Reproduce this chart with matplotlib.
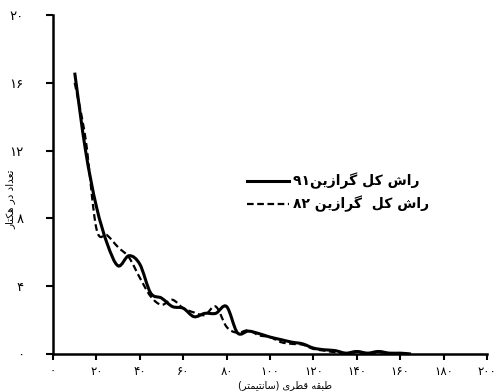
import numpy as np
import matplotlib
matplotlib.use("Agg")
import matplotlib.pyplot as plt
from matplotlib.path import Path
from matplotlib.patches import PathPatch
from matplotlib.lines import Line2D
import re

# diameter classes (cm) and trees per hectare
x_91 = [10, 15, 20, 25, 30, 35, 40, 45, 50, 55, 60, 65, 70, 75, 80, 85, 90,
        95, 100, 105, 110, 115, 120, 125, 130, 135, 140, 145, 150, 155, 160, 165]
y_91 = [16.6, 12.0, 8.7, 6.5, 5.2, 5.8, 5.3, 3.6, 3.3, 2.8, 2.7, 2.2, 2.4, 2.4, 2.8, 1.25,
        1.35, 1.2, 1.0, 0.85, 0.7, 0.6, 0.35, 0.25, 0.2, 0.05, 0.15, 0.05, 0.15, 0.05, 0.05, 0.0]
x_82 = [10, 15, 20, 25, 30, 35, 40, 45, 50, 55, 60, 65, 70, 75, 80, 85, 90,
        95, 100, 105, 110, 115, 120, 125, 130, 135, 140, 145, 150, 155, 160]
y_82 = [16.0, 12.7, 7.4, 7.0, 6.3, 5.7, 4.5, 3.4, 2.9, 3.2, 2.7, 2.45, 2.3, 2.8, 1.6, 1.25,
        1.4, 1.1, 1.0, 0.7, 0.6, 0.55, 0.3, 0.2, 0.1, 0.05, 0.1, 0.05, 0.1, 0.05, 0.0]

xticks = [0, 20, 40, 60, 80, 100, 120, 140, 160, 180, 200]
yticks = [0, 4, 8, 12, 16, 20]
label_91 = "راش کل گرازین۹۱"
label_82 = "راش کل  گرازین ۸۲"
xlabel = "طبقه قطری (سانتیمتر)"
ylabel = "تعداد در هکتار"

# contextual forms: isolated, final, initial, medial
FORMS = {
    'ا': '\uFE8D\uFE8E', 'د': '\uFEA9\uFEAA', 'ر': '\uFEAD\uFEAE', 'ز': '\uFEAF\uFEB0',
    'ب': '\uFE8F\uFE90\uFE91\uFE92', 'ت': '\uFE95\uFE96\uFE97\uFE98',
    'س': '\uFEB1\uFEB2\uFEB3\uFEB4', 'ش': '\uFEB5\uFEB6\uFEB7\uFEB8',
    'ط': '\uFEC1\uFEC2\uFEC3\uFEC4', 'ع': '\uFEC9\uFECA\uFECB\uFECC',
    'ق': '\uFED5\uFED6\uFED7\uFED8', 'ل': '\uFEDD\uFEDE\uFEDF\uFEE0',
    'م': '\uFEE1\uFEE2\uFEE3\uFEE4', 'ن': '\uFEE5\uFEE6\uFEE7\uFEE8',
    'ه': '\uFEE9\uFEEA\uFEEB\uFEEC', 'ک': '\uFB8E\uFB8F\uFB90\uFB91',
    'گ': '\uFB92\uFB93\uFB94\uFB95', 'ی': '\uFBFC\uFBFD\uFBFE\uFBFF',
}


def fa(s):
    out = []
    for i, c in enumerate(s):
        if c not in FORMS:
            out.append(c)
            continue
        f = FORMS[c]
        prev = s[i - 1] if i > 0 else ''
        nxt = s[i + 1] if i + 1 < len(s) else ''
        jp = prev in FORMS and len(FORMS[prev]) == 4
        jn = len(f) == 4 and nxt in FORMS
        if jp and jn:
            out.append(f[3])
        elif jp:
            out.append(f[1])
        elif jn:
            out.append(f[2])
        else:
            out.append(f[0])
    vis = ''.join(out)[::-1]
    vis = re.sub('[۰-۹]+', lambda m: m.group(0)[::-1], vis)
    return vis.translate(str.maketrans('()', ')('))


def digits(v):
    return str(v).translate(str.maketrans('0123456789', '۰۱۲۳۴۵۶۷۸۹'))


def smooth_path(x, y):
    pts = np.column_stack([x, y]).astype(float)
    verts = [pts[0]]
    codes = [Path.MOVETO]
    n = len(pts)
    for i in range(n - 1):
        p0 = pts[i - 1] if i > 0 else pts[i]
        p1, p2 = pts[i], pts[i + 1]
        p3 = pts[i + 2] if i + 2 < n else p2
        verts += [p1 + (p2 - p0) / 6, p2 - (p3 - p1) / 6, p2]
        codes += [Path.CURVE4] * 3
    return Path(verts, codes)


plt.rcParams['font.family'] = ['DejaVu Sans']
fig = plt.figure(figsize=(4.97, 3.91), dpi=100)
ax = fig.add_axes([53 / 497, 37 / 391, 434 / 497, 339 / 391])

ax.add_patch(PathPatch(smooth_path(x_82, y_82), fill=False, lw=1.6,
                       ls=(0, (3, 1.6)), color='black'))
ax.add_patch(PathPatch(smooth_path(x_91, y_91), fill=False, lw=2.2, color='black'))

ax.set_xlim(0, 200)
ax.set_ylim(0, 20)
ax.set_xticks(xticks)
ax.set_xticklabels([digits(v) for v in xticks], fontsize=8.5)
ax.set_yticks(yticks)
ax.set_yticklabels([digits(v) for v in yticks], fontsize=9.5)
ax.tick_params(axis='x', length=4, width=1.5, pad=4)
ax.tick_params(axis='y', length=5, width=1.5, pad=16)
for s in ['top', 'right']:
    ax.spines[s].set_visible(False)
for s in ['left', 'bottom']:
    ax.spines[s].set_linewidth(1.8)

ax.set_xlabel(fa(xlabel), fontsize=7)
ax.xaxis.set_label_coords(0.535, -0.077)
ax.set_ylabel(fa(ylabel), fontsize=7.5)
ax.yaxis.set_label_coords(-0.086, 0.457)

handles = [Line2D([], [], color='black', lw=2.2),
           Line2D([], [], color='black', lw=1.6, ls=(0, (3, 1.6)))]
ax.legend(handles, [fa(label_91), fa(label_82)], loc='upper left',
          bbox_to_anchor=(240 / 497, 1 - 166 / 391), bbox_transform=fig.transFigure,
          frameon=False, prop={'size': 10, 'weight': 'bold'}, handlelength=3.0,
          handletextpad=0.3, borderpad=0, labelspacing=0.45)

fig.savefig('out.png', dpi=100)
